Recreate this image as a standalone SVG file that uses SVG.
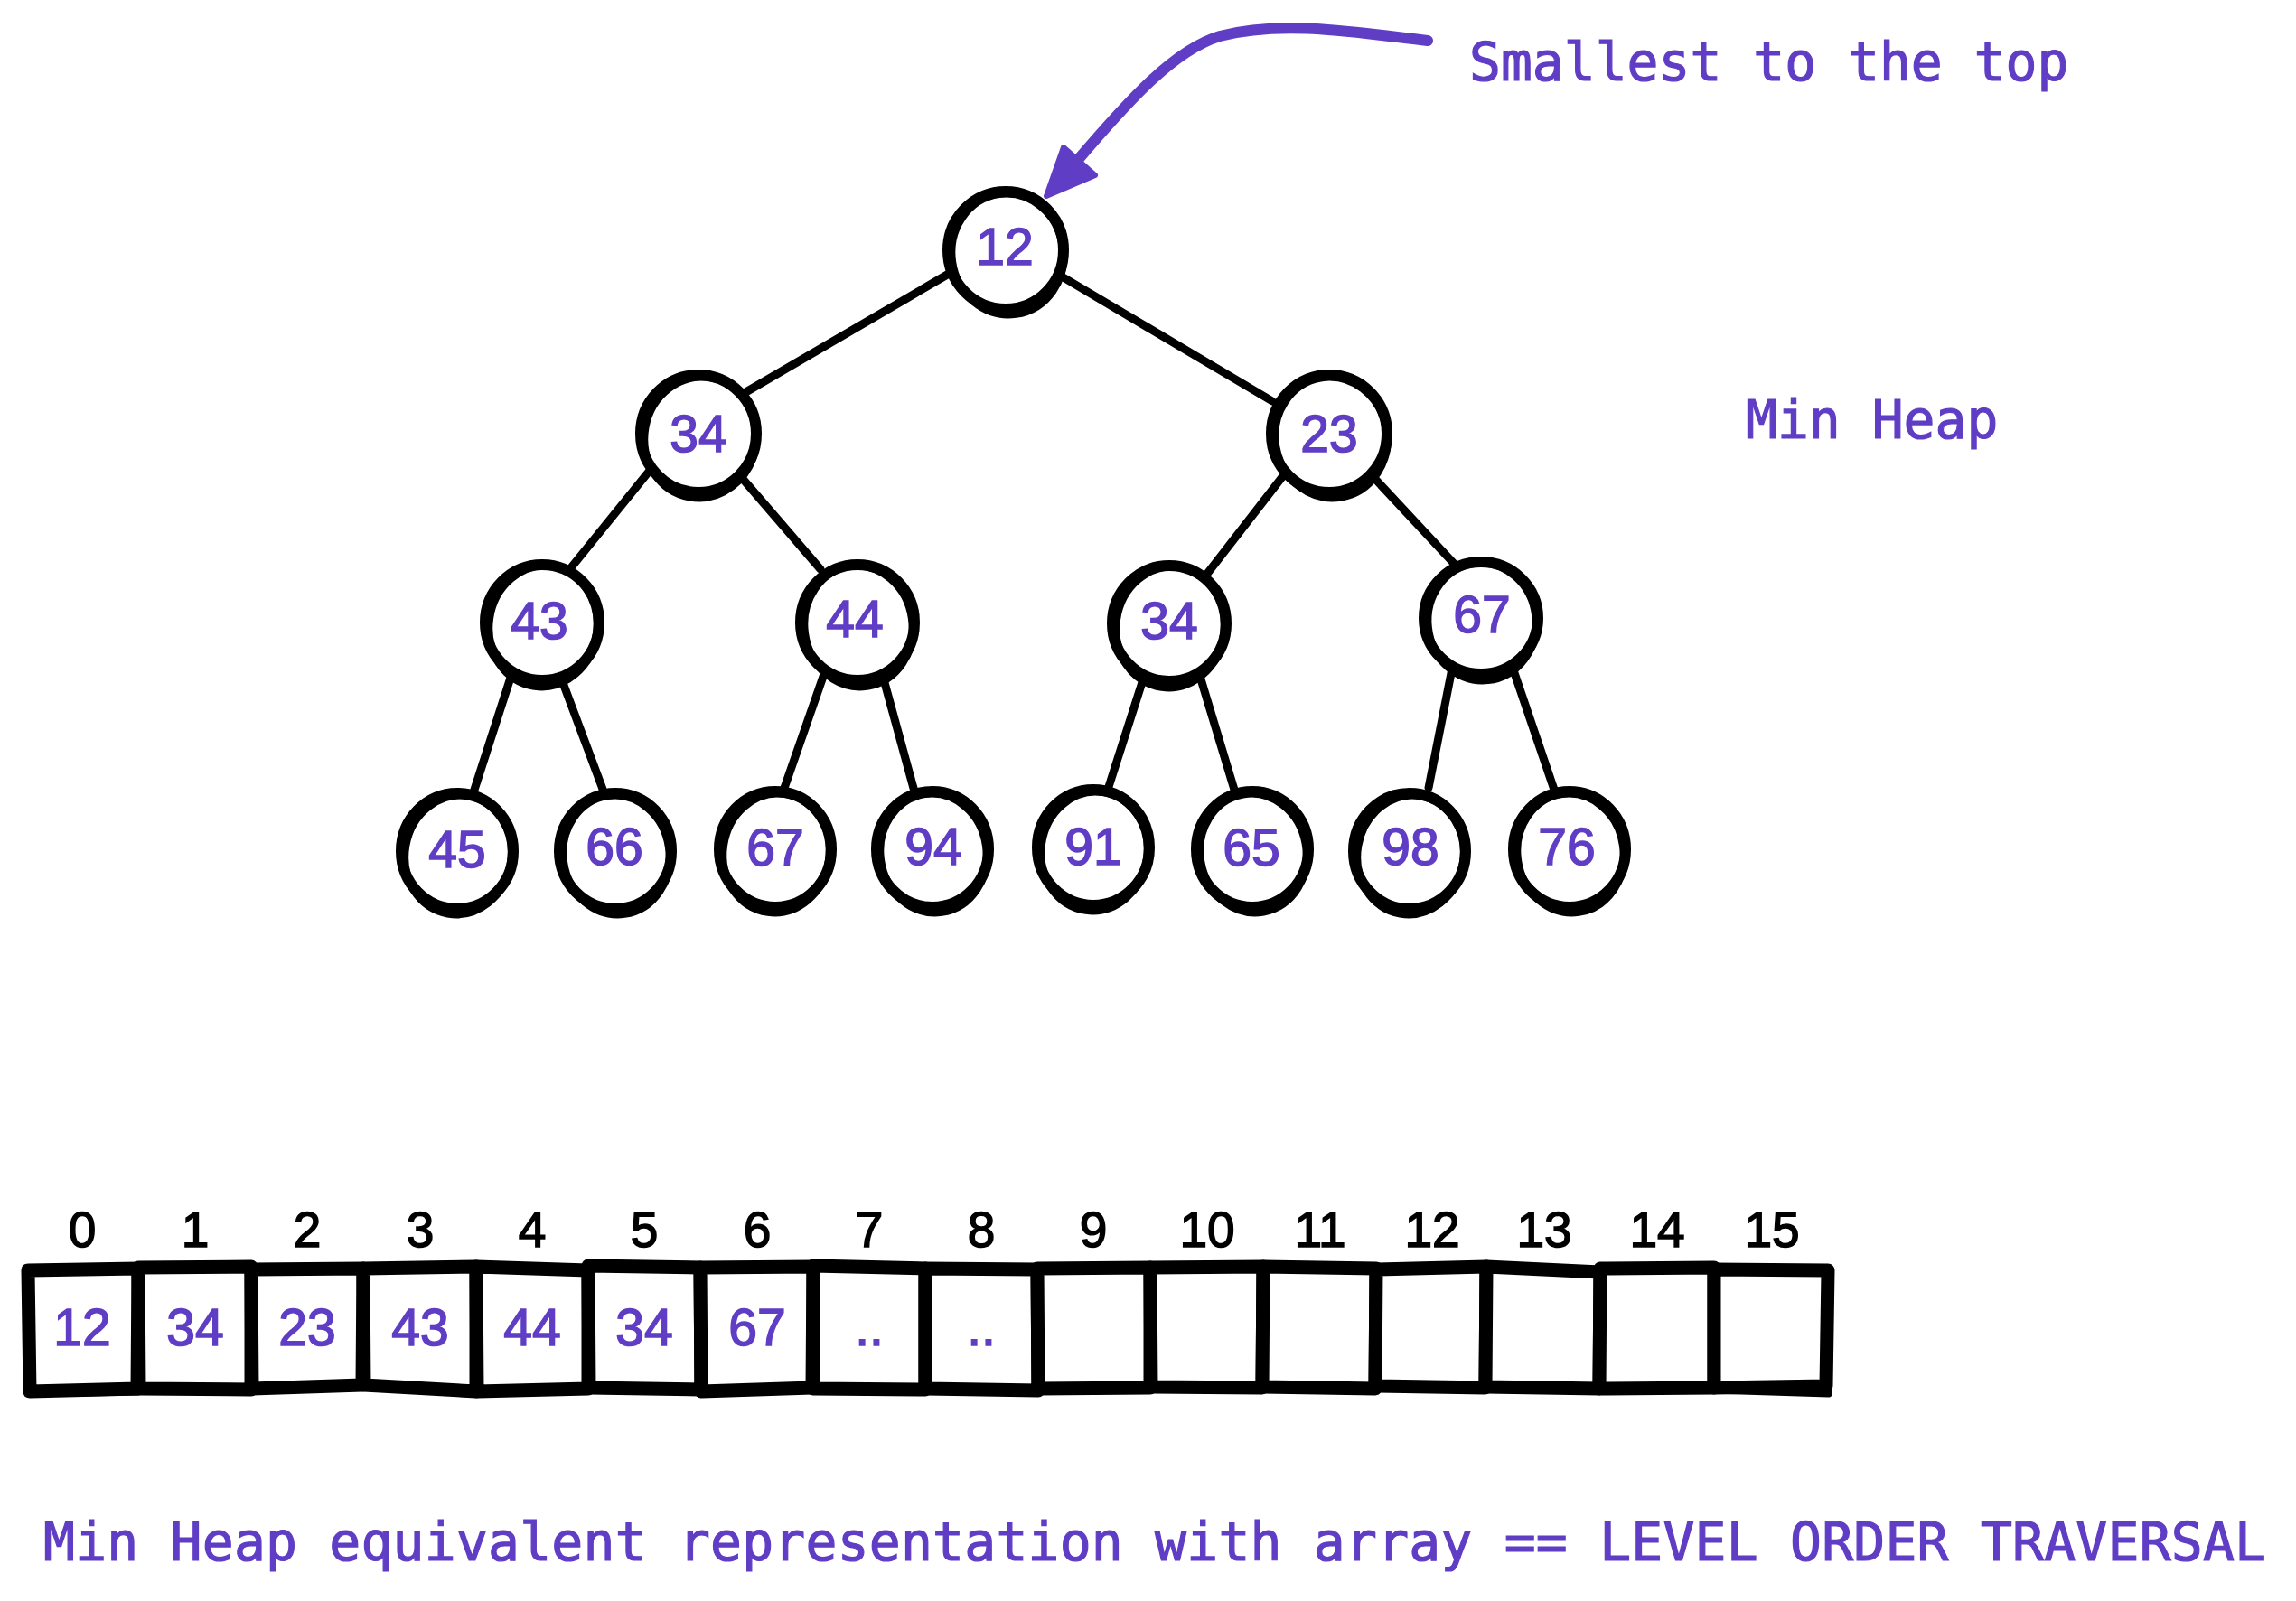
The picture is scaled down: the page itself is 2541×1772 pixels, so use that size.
<svg xmlns="http://www.w3.org/2000/svg" width="2541" height="1772" viewBox="0 0 2541 1772">
<style>
.bg{fill:#ffffff}
.edge{stroke:#000;stroke-width:9;stroke-linecap:round;fill:none}
.o1{fill:#fff;stroke:#000;stroke-width:12}
.o2{fill:none;stroke:#000;stroke-width:9}
.lbl{font-family:"Liberation Sans",Arial,sans-serif;font-size:57px;fill:#5f3dc4;stroke:#5f3dc4;stroke-width:1.5;text-anchor:middle}
.idx{font-family:"Liberation Sans",Arial,sans-serif;font-size:55px;fill:#000;stroke:#000;stroke-width:1.5;text-anchor:middle}
.cell{fill:#fff;stroke:#000;stroke-width:15;stroke-linejoin:round}
.cell2{fill:none;stroke:#000;stroke-width:7;stroke-linejoin:round}
.note{font-family:"DejaVu Sans Mono","Liberation Mono",monospace;font-size:58px;fill:#5f3dc4;stroke:#5f3dc4;stroke-width:1.2}
.arrow{stroke:#5f3dc4;fill:none;stroke-linecap:round;stroke-linejoin:round}
.head{stroke:#5f3dc4;fill:#5f3dc4;stroke-width:6;stroke-linejoin:round}
</style>
<rect class="bg" x="0" y="0" width="2541" height="1772"/>

<g id="connectors">
<line class="edge" x1="1050" y1="303" x2="822" y2="436"/>
<line class="edge" x1="1175" y1="306" x2="1408" y2="444"/>
<line class="edge" x1="718" y1="522" x2="629" y2="632"/>
<line class="edge" x1="822" y1="530" x2="908" y2="630"/>
<line class="edge" x1="1419" y1="528" x2="1336" y2="635"/>
<line class="edge" x1="1520" y1="528" x2="1614" y2="629"/>
<line class="edge" x1="566" y1="747" x2="525" y2="874"/>
<line class="edge" x1="622" y1="753" x2="668" y2="876"/>
<line class="edge" x1="913" y1="743" x2="867" y2="875"/>
<line class="edge" x1="978" y1="752" x2="1012" y2="876"/>
<line class="edge" x1="1265" y1="752" x2="1226" y2="874"/>
<line class="edge" x1="1327" y1="745" x2="1366" y2="874"/>
<line class="edge" x1="1607" y1="740" x2="1581" y2="872"/>
<line class="edge" x1="1674" y1="739" x2="1720" y2="874"/>
<path class="arrow" stroke-width="12" d="M1580,45 C1500,36 1420,22 1350,40 C1300,55 1250,110 1192,178"/>
<path class="head" d="M1177,163 L1212,194 L1158,217 Z"/>
</g>

<g id="node-12"><ellipse class="o1" cx="1113" cy="277" rx="64" ry="65"/><ellipse class="o2" cx="1115" cy="281" rx="62" ry="67" transform="rotate(-8 1115 281)"/><text class="lbl" x="1112" y="293">12</text></g>
<g id="node-34a"><ellipse class="o1" cx="773" cy="480" rx="64" ry="65"/><ellipse class="o2" cx="775" cy="484" rx="62" ry="67" transform="rotate(10 775 484)"/><text class="lbl" x="773" y="500">34</text></g>
<g id="node-23"><ellipse class="o1" cx="1471" cy="480" rx="64" ry="65"/><ellipse class="o2" cx="1473" cy="484" rx="62" ry="67" transform="rotate(-10 1473 484)"/><text class="lbl" x="1471" y="500">23</text></g>

<g id="node-43"><ellipse class="o1" cx="600" cy="689" rx="63" ry="64"/><ellipse class="o2" cx="601" cy="693" rx="60" ry="67" transform="rotate(8 601 693)"/><text class="lbl" x="597" y="707">43</text></g>
<g id="node-44"><ellipse class="o1" cx="949" cy="689" rx="63" ry="64"/><ellipse class="o2" cx="950" cy="693" rx="60" ry="67" transform="rotate(-8 950 693)"/><text class="lbl" x="946" y="705">44</text></g>
<g id="node-34b"><ellipse class="o1" cx="1294" cy="690" rx="63" ry="64"/><ellipse class="o2" cx="1295" cy="694" rx="60" ry="67" transform="rotate(8 1295 694)"/><text class="lbl" x="1294" y="707">34</text></g>
<g id="node-67a"><ellipse class="o1" cx="1639" cy="684" rx="63" ry="62"/><ellipse class="o2" cx="1640" cy="688" rx="60" ry="65" transform="rotate(-6 1640 688)"/><text class="lbl" x="1640" y="700">67</text></g>

<g id="node-45"><ellipse class="o1" cx="506" cy="942" rx="62" ry="64"/><ellipse class="o2" cx="507" cy="946" rx="59" ry="66" transform="rotate(10 507 946)"/><text class="lbl" x="506" y="960">45</text></g>
<g id="node-66"><ellipse class="o1" cx="681" cy="942" rx="62" ry="64"/><ellipse class="o2" cx="682" cy="946" rx="59" ry="66" transform="rotate(-8 682 946)"/><text class="lbl" x="680" y="957">66</text></g>
<g id="node-67b"><ellipse class="o1" cx="858" cy="940" rx="62" ry="64"/><ellipse class="o2" cx="859" cy="944" rx="59" ry="66" transform="rotate(8 859 944)"/><text class="lbl" x="858" y="958">67</text></g>
<g id="node-94"><ellipse class="o1" cx="1032" cy="940" rx="62" ry="64"/><ellipse class="o2" cx="1033" cy="944" rx="59" ry="66" transform="rotate(-8 1033 944)"/><text class="lbl" x="1033" y="957">94</text></g>
<g id="node-91"><ellipse class="o1" cx="1210" cy="938" rx="62" ry="64"/><ellipse class="o2" cx="1211" cy="942" rx="59" ry="66" transform="rotate(8 1211 942)"/><text class="lbl" x="1210" y="957">91</text></g>
<g id="node-65"><ellipse class="o1" cx="1386" cy="940" rx="62" ry="64"/><ellipse class="o2" cx="1387" cy="944" rx="59" ry="66" transform="rotate(-10 1387 944)"/><text class="lbl" x="1385" y="958">65</text></g>
<g id="node-98"><ellipse class="o1" cx="1560" cy="942" rx="62" ry="64"/><ellipse class="o2" cx="1561" cy="946" rx="59" ry="66" transform="rotate(10 1561 946)"/><text class="lbl" x="1561" y="957">98</text></g>
<g id="node-76"><ellipse class="o1" cx="1737" cy="940" rx="62" ry="64"/><ellipse class="o2" cx="1738" cy="944" rx="59" ry="66" transform="rotate(-8 1738 944)"/><text class="lbl" x="1734" y="957">76</text></g>

<g id="array">
<g id="cell-0"><path class="cell" d="M31,1406 L153,1404 L152,1537 L33,1540 Z"/><path class="cell2" d="M28,1403 L154,1401 L153,1541 L30,1543 Z"/><text class="idx" x="91" y="1380">0</text><text class="lbl" x="91" y="1489">12</text></g>
<g id="cell-1"><path class="cell" d="M153,1403 L278,1402 L278,1538 L154,1537 Z"/><path class="cell2" d="M155,1400 L276,1399 L277,1541 L153,1540 Z"/><text class="idx" x="216" y="1380">1</text><text class="lbl" x="216" y="1489">34</text></g>
<g id="cell-2"><path class="cell" d="M278,1405 L402,1404 L401,1533 L279,1537 Z"/><path class="cell2" d="M280,1402 L401,1401 L402,1536 L277,1540 Z"/><text class="idx" x="340" y="1380">2</text><text class="lbl" x="340" y="1489">23</text></g>
<g id="cell-3"><path class="cell" d="M402,1404 L527,1402 L527,1540 L403,1533 Z"/><path class="cell2" d="M404,1401 L525,1399 L528,1543 L401,1536 Z"/><text class="idx" x="465" y="1380">3</text><text class="lbl" x="465" y="1489">43</text></g>
<g id="cell-4"><path class="cell" d="M527,1402 L651,1406 L651,1537 L528,1540 Z"/><path class="cell2" d="M529,1399 L650,1403 L652,1540 L526,1543 Z"/><text class="idx" x="589" y="1380">4</text><text class="lbl" x="589" y="1489">44</text></g>
<g id="cell-5"><path class="cell" d="M651,1401 L775,1403 L776,1538 L652,1536 Z"/><path class="cell2" d="M653,1398 L774,1400 L777,1541 L650,1539 Z"/><text class="idx" x="713" y="1380">5</text><text class="lbl" x="713" y="1489">34</text></g>
<g id="cell-6"><path class="cell" d="M775,1403 L900,1402 L899,1536 L776,1540 Z"/><path class="cell2" d="M777,1400 L898,1399 L900,1539 L774,1543 Z"/><text class="idx" x="838" y="1380">6</text><text class="lbl" x="838" y="1489">67</text></g>
<g id="cell-7"><path class="cell" d="M900,1401 L1024,1404 L1024,1538 L900,1537 Z"/><path class="cell2" d="M902,1398 L1023,1401 L1025,1541 L898,1540 Z"/><text class="idx" x="962" y="1380">7</text><text class="lbl" x="962" y="1489">..</text></g>
<g id="cell-8"><path class="cell" d="M1024,1404 L1148,1405 L1149,1539 L1024,1537 Z"/><path class="cell2" d="M1026,1401 L1147,1402 L1150,1542 L1022,1540 Z"/><text class="idx" x="1086" y="1380">8</text><text class="lbl" x="1086" y="1489">..</text></g>
<g id="cell-9"><path class="cell" d="M1148,1404 L1273,1403 L1273,1536 L1149,1537 Z"/><path class="cell2" d="M1150,1401 L1272,1400 L1274,1539 L1147,1540 Z"/><text class="idx" x="1210" y="1380">9</text></g>
<g id="cell-10"><path class="cell" d="M1273,1403 L1398,1402 L1397,1536 L1274,1535 Z"/><path class="cell2" d="M1275,1400 L1396,1399 L1398,1539 L1272,1538 Z"/><text class="idx" x="1336" y="1380">10</text></g>
<g id="cell-11"><path class="cell" d="M1398,1402 L1523,1404 L1522,1537 L1397,1535 Z"/><path class="cell2" d="M1400,1399 L1521,1401 L1523,1540 L1395,1538 Z"/><text class="idx" x="1461" y="1380">11</text></g>
<g id="cell-12"><path class="cell" d="M1523,1405 L1645,1402 L1644,1536 L1522,1534 Z"/><path class="cell2" d="M1525,1402 L1643,1399 L1645,1539 L1520,1537 Z"/><text class="idx" x="1585" y="1380">12</text></g>
<g id="cell-13"><path class="cell" d="M1645,1402 L1771,1408 L1770,1537 L1644,1535 Z"/><path class="cell2" d="M1647,1399 L1769,1405 L1771,1540 L1642,1538 Z"/><text class="idx" x="1709" y="1380">13</text></g>
<g id="cell-14"><path class="cell" d="M1771,1404 L1897,1403 L1897,1536 L1770,1537 Z"/><path class="cell2" d="M1773,1401 L1895,1400 L1898,1539 L1768,1540 Z"/><text class="idx" x="1834" y="1380">14</text></g>
<g id="cell-15"><path class="cell" d="M1897,1405 L2023,1406 L2021,1534 L1897,1536 Z"/><path class="cell2" d="M1899,1402 L2025,1403 L2024,1543 L1895,1539 Z"/><text class="idx" x="1961" y="1380">15</text></g>
</g>

<g id="texts">
<text class="note" x="1626" y="89">Smallest to the top</text>
<text class="note" x="1932" y="485">Min Heap</text>
<text class="note" x="48" y="1727" textLength="2460" lengthAdjust="spacing">Min Heap equivalent representation with array == LEVEL ORDER TRAVERSAL</text>
</g>
</svg>
